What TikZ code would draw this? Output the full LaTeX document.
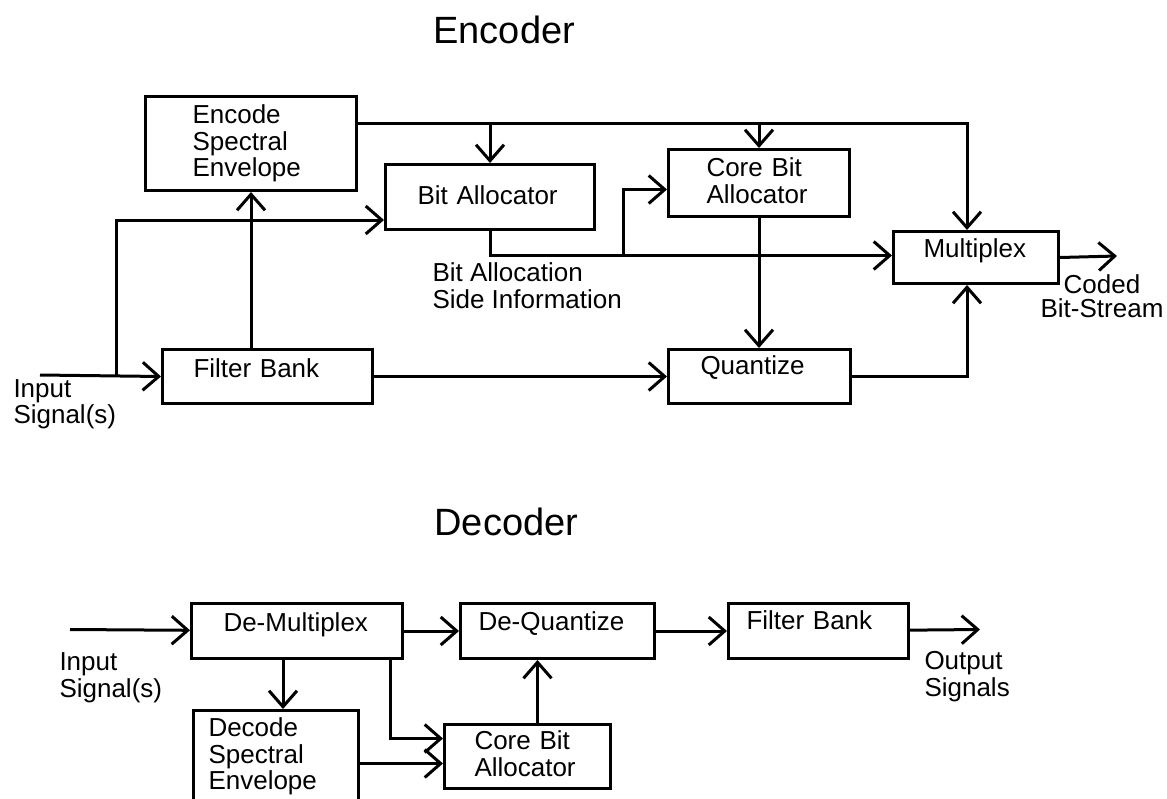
\documentclass[tikz,border=0pt]{standalone}
\usepackage{fontspec}
\setmainfont{Liberation Sans}
\usetikzlibrary{arrows.meta}
\newcommand{\bodyfont}{\fontsize{26}{26.5}\selectfont}
\newcommand{\titlefont}{\fontsize{38}{40}\selectfont}
\begin{document}
\begin{tikzpicture}[x = 1pt, y = -1pt, line width = 3pt,
  >={Straight Barb[length=16pt,width=28pt]},
  block/.style = {draw, anchor = north west, align = left, inner ysep = 0pt, font = \bodyfont},
  note/.style = {anchor = base west, align = left, inner sep = 0pt, font = \bodyfont}]
\useasboundingbox (0,0) rectangle (1167,798);
% titles
\node [note, font = \titlefont] (enctitle) at (432,43) {Encoder};
\node [note, font = \titlefont] (dectitle) at (433,535) {Decoder};
% encoder blocks
\node [block, inner xsep = 47pt, text width = 117pt, text height = 27pt, text depth = 67pt] (ese) at (144,95) {Encode\\Spectral\\Envelope};
\node [block, inner xsep = 31pt, text width = 148pt, text height = 28pt, text depth = 26pt] (fb) at (161,348) {Filter Bank};
\node [block, inner xsep = 32pt, text width = 145pt, text height = 40pt, text depth = 25pt] (ba) at (384,163) {Bit Allocator};
\node [block, inner xsep = 38pt, text width = 105pt, text height = 27pt, text depth = 40pt] (cba) at (667,148) {Core Bit\\Allocator};
\node [block, inner xsep = 32pt, text width = 118pt, text height = 25pt, text depth = 29pt] (qz) at (667,348) {Quantize};
\node [block, inner xsep = 30pt, text width = 105pt, text height = 26pt, text depth = 26pt] (mux) at (892,230) {Multiplex};
% encoder labels (base = last line)
\node [note, font = \fontsize{26}{22}\selectfont] (insig1) at (12,423) {Input\\Signal(s)};
\node [note] (side) at (431,308) {Bit Allocation\\Side Information};
\node [note, anchor = base, align = center, font = \fontsize{26}{24}\selectfont] (coded) at (1102,317) {Coded\\Bit-Stream};
% encoder connectors
\coordinate (in1) at (40,375);
\coordinate (split) at (116,375);
\coordinate (out1) at (1117,256);
\coordinate (tap) at (623,254);
\coordinate (env) at ([yshift=20pt]ese.east);
\draw [->] (in1) -- (fb.west);
\draw [->] (split) |- ([yshift=11pt]ba.south west);
\draw [->] (ese.south |- fb.north) -- (ese.south);
\draw [->] (env) -| ([xshift=-9pt]mux.north);
\draw [->] (ba.north |- env) -- (ba.north);
\draw [->] (cba.north |- env) -- (cba.north);
\draw [->] (ba.south) |- ([yshift=2pt]mux.west);
\draw [->] (tap) |- ([yshift=-6.5pt]cba.west);
\draw [->] (cba.south) -- (cba.south |- qz.north);
\draw [->] (fb.east) -- (qz.west);
\draw [->] (qz.east) -| ([xshift=-9pt]mux.south);
\draw [->] (mux.east) -- (out1);
% decoder blocks
\node [block, inner xsep = 32pt, text width = 147pt, text height = 28pt, text depth = 27pt] (dmux) at (190,602) {De-Multiplex};
\node [block, inner xsep = 18pt, text width = 158pt, text height = 27pt, text depth = 28pt] (dq) at (459,602) {De-Quantize};
\node [block, inner xsep = 18pt, text width = 144pt, text height = 26pt, text depth = 29pt] (dfb) at (727,602) {Filter Bank};
\node [block, inner xsep = 15pt, text width = 135pt, text height = 26pt, text depth = 100pt] (dse) at (192,709) {Decode\\Spectral\\Envelope};
\node [block, inner xsep = 30pt, text width = 106pt, text height = 25pt, text depth = 39pt] (dcba) at (443,723) {Core Bit\\Allocator};
% decoder labels
\node [note, font = \fontsize{26}{27}\selectfont] (insig2) at (58,697) {Input\\Signal(s)};
\node [note, font = \fontsize{26}{27}\selectfont] (outsig) at (923,696) {Output\\Signals};
% decoder connectors
\coordinate (in2) at (70,629.5);
\coordinate (out2) at (980,629.5);
\foreach \a/\b in {in2/dmux, dmux/dq, dq/dfb, dfb/out2}{
\draw [->] (\a) -- (\b);
}
\draw [->] ([xshift=7pt]dse.north |- dmux.south) -- ([xshift=7pt]dse.north);
\draw [->] ([xshift=-14pt]dmux.south east) |- ([yshift=18pt]dcba.west);
\draw [->] ([yshift=-7pt]dcba.west -| dse.east) -- ([yshift=-7pt]dcba.west);
\draw [->] ([xshift=10pt]dcba.north) -- ([xshift=10pt]dcba.north |- dq.south);
\end{tikzpicture}
\end{document}
